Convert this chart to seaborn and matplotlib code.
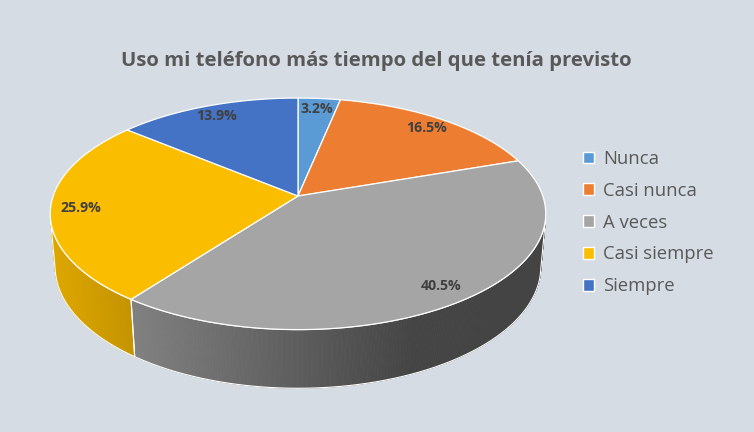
import numpy as np
import matplotlib
matplotlib.use("Agg")
import matplotlib.pyplot as plt
import seaborn as sns
from matplotlib.patches import Polygon, Patch
from matplotlib.collections import PolyCollection
from matplotlib.colors import to_rgb

# ---------------- data ----------------
categories = ["Nunca", "Casi nunca", "A veces", "Casi siempre", "Siempre"]
values = [3.2, 16.5, 40.5, 25.9, 13.9]
colors = ["#5b9bd5", "#ed7d31", "#a5a5a5", "#fbbd00", "#4472c4"]
title = "Uso mi teléfono más tiempo del que tenía previsto"

# ---------------- style ----------------
sns.set_theme(style="white")
plt.rcParams["font.family"] = ["Open Sans", "DejaVu Sans"]
bg = "#d6dce4"

W, H = 754, 432
fig = plt.figure(figsize=(W / 100, H / 100), dpi=100, facecolor=bg)
ax = fig.add_axes([0, 0, 1, 1])
ax.set_xlim(0, W)
ax.set_ylim(H, 0)
ax.axis("off")
ax.set_facecolor(bg)

# ---------------- 3D perspective projection of the pie ----------------
cx, cy = 298.0, 196.0
phi = np.radians(27.5)
D = 5.76
F = 1410.0
thick = 0.246


def proj(theta, r=1.0, z=0.0):
    theta = np.asarray(theta, dtype=float)
    X = r * np.cos(theta)
    Y = r * np.sin(theta)
    d = D + Y * np.cos(phi) - z * np.sin(phi)
    v = Y * np.sin(phi) + z * np.cos(phi)
    return cx + F * X / d, cy - F * v / d


vals = np.array(values, dtype=float)
frac = vals / vals.sum()
cum = np.concatenate([[0], np.cumsum(frac)])
starts = np.pi / 2 - 2 * np.pi * cum[:-1]
ends = np.pi / 2 - 2 * np.pi * cum[1:]

# visible (front-facing) part of the outer wall
a = np.arcsin(1.0 / (D * np.cos(phi)))
front = [(np.pi + a - 2 * np.pi * k, 2 * np.pi - a - 2 * np.pi * k) for k in (-1, 0, 1, 2)]


def shade(x):
    return float(np.clip(0.88 - 0.0013 * (x - 55), 0.41, 1.0))


for i in range(len(vals)):
    lo, hi = ends[i], starts[i]
    base = np.array(to_rgb(colors[i]))
    for f0, f1 in front:
        s0, s1 = max(lo, f0), min(hi, f1)
        if s1 <= s0:
            continue
        n = max(int(np.degrees(s1 - s0) * 3), 2)
        th = np.linspace(s0, s1, n + 1)
        xt, yt = proj(th)
        xb, yb = proj(th, z=-thick)
        quads, cols = [], []
        for j in range(n):
            quads.append([(xt[j], yt[j]), (xt[j + 1], yt[j + 1]),
                          (xb[j + 1], yb[j + 1]), (xb[j], yb[j])])
            c = base * shade(0.5 * (xt[j] + xt[j + 1]))
            cols.append(np.clip(c, 0, 1))
        pc = PolyCollection(quads, facecolors=cols, edgecolors=cols,
                            linewidths=0.6, zorder=2)
        ax.add_collection(pc)
        # white outline of the wall piece
        ox = np.concatenate([xt, xb[::-1], [xt[0]]])
        oy = np.concatenate([yt, yb[::-1], [yt[0]]])
        ax.plot(ox, oy, color="white", lw=0.8, zorder=3, solid_joinstyle="round")

# top face
for i in range(len(vals)):
    n = max(int(np.degrees(starts[i] - ends[i]) * 2), 4)
    th = np.linspace(starts[i], ends[i], n + 1)
    xt, yt = proj(th)
    pts = np.column_stack([np.concatenate([[cx], xt]), np.concatenate([[cy], yt])])
    ax.add_patch(Polygon(pts, closed=True, facecolor=colors[i], edgecolor="white",
                         lw=0.9, joinstyle="round", zorder=4))

# percentage labels
for i in range(len(vals)):
    mid = 0.5 * (starts[i] + ends[i])
    lx, ly = proj(mid, r=0.88)
    ax.text(float(lx), float(ly), f"{values[i]:.1f}%", ha="center", va="center",
            fontsize=10.2, fontweight="bold", color="#404040", zorder=6)

# title
ax.text(376, 61, title, ha="center", va="center", fontsize=14.6, fontweight="bold",
        color="#595959", zorder=6)

# legend
handles = [Patch(facecolor=c, edgecolor="white", linewidth=1.0) for c in colors]
fig.legend(handles, categories, loc="upper left",
           bbox_to_anchor=(583 / W, 1 - 150 / H), frameon=False,
           prop={"family": ["Open Sans", "DejaVu Sans"], "size": 13.3},
           labelcolor="#595959", handlelength=0.62, handleheight=0.62,
           handletextpad=0.45, labelspacing=0.745, borderaxespad=0, borderpad=0)

fig.savefig("out.png", dpi=100, facecolor=bg)
